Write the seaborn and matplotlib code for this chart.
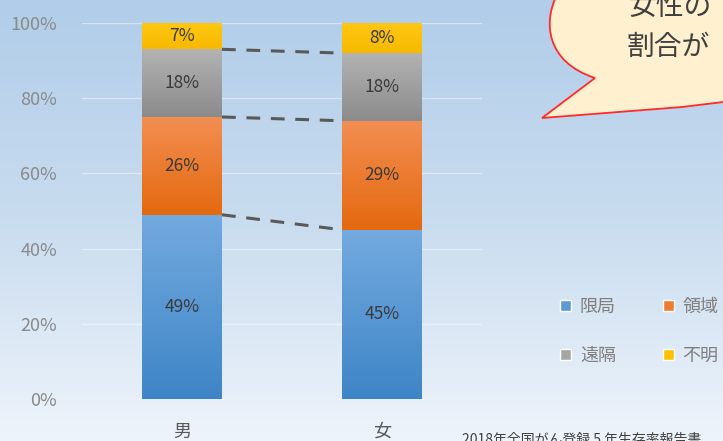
import matplotlib
matplotlib.use("Agg")
import matplotlib.pyplot as plt
import numpy as np
import pandas as pd
import seaborn as sns
from matplotlib.colors import LinearSegmentedColormap
from matplotlib.patches import Patch, PathPatch
from matplotlib.path import Path
from matplotlib.ticker import PercentFormatter

# data (percent of cases by stage)
sexes = ["男", "女"]
stages = ["限局", "領域", "遠隔", "不明"]
localized = [49, 45]
regional = [26, 29]
distant = [18, 18]
unknown = [7, 8]

# (bottom, top) colours of each segment's gradient
stage_colors = {
    "限局": ("#3e85c7", "#73aadf"),
    "領域": ("#e4690f", "#f38e52"),
    "遠隔": ("#8b8b8b", "#b3b3b3"),
    "不明": ("#f7b900", "#ffc814"),
}
legend_colors = {"限局": "#5b9bd5", "領域": "#ed7d31", "遠隔": "#a5a5a5", "不明": "#ffc000"}

W, H = 723, 441


def fig_xy(x, y):
    """pixel position (from top-left) -> figure fraction"""
    return x / W, 1 - y / H


sns.set_style("white")
plt.rcParams["font.family"] = ["Noto Sans CJK JP", "DejaVu Sans"]

fig = plt.figure(figsize=(W / 100, H / 100), dpi=100)

# background gradient over the whole slide
bg = fig.add_axes([0, 0, 1, 1], zorder=-10)
bg_cmap = LinearSegmentedColormap.from_list("bg", ["#eef4fb", "#c9dcef", "#b1cde9"])
bg.imshow(np.linspace(0, 1, 256).reshape(-1, 1), cmap=bg_cmap, origin="lower",
          aspect="auto", extent=[0, 1, 0, 1])
bg.axis("off")

x0, y1 = fig_xy(82, 23)
x1, y0 = fig_xy(482, 399)
ax = fig.add_axes([x0, y0, x1 - x0, y1 - y0])
ax.patch.set_alpha(0)

data = pd.DataFrame({"sex": sexes, "限局": localized, "領域": regional,
                     "遠隔": distant, "不明": unknown}).set_index("sex")
tops = data[stages].cumsum(axis=1)
bottoms = tops - data[stages]

grad = np.linspace(0, 1, 256).reshape(-1, 1)
# draw from the top of the stack down so each call gets its own patches
for stage in reversed(stages):
    n_before = len(ax.patches)
    sns.barplot(x=sexes, y=tops[stage].values, order=sexes, color=legend_colors[stage],
                saturation=1, width=0.4, linewidth=0, ax=ax)
    for patch, sex in zip(ax.patches[n_before:], sexes):
        patch.set_y(bottoms.loc[sex, stage])
        patch.set_height(data.loc[sex, stage])
        bx = patch.get_x()
        cmap = LinearSegmentedColormap.from_list(stage, stage_colors[stage])
        im = ax.imshow(grad, cmap=cmap, origin="lower", aspect="auto", zorder=2,
                       extent=[bx, bx + patch.get_width(),
                               bottoms.loc[sex, stage], tops.loc[sex, stage]])
        im.set_clip_path(patch)
        ax.text(bx + patch.get_width() / 2,
                bottoms.loc[sex, stage] + data.loc[sex, stage] / 2,
                f"{data.loc[sex, stage]}%", ha="center", va="center",
                fontsize=12.5, color="#3a3a3a", zorder=4)

# dashed connectors between the stage boundaries
for stage in stages[:-1]:
    ax.plot([0.2, 0.8], tops[stage].values, color="#595959", lw=2.2,
            dashes=(4.5, 3.5), zorder=3)

ax.set_xlim(-0.5, 1.5)
ax.set_ylim(0, 100)
ax.yaxis.set_major_formatter(PercentFormatter(100, decimals=0))
ax.set_yticks(np.arange(0, 101, 20))
ax.grid(axis="y", color="#ffffff", alpha=0.45, lw=1)
ax.set_axisbelow(True)
sns.despine(ax=ax, left=True, bottom=True)
ax.tick_params(axis="y", length=0, pad=18, labelsize=13, labelcolor="#8a8a8a")
ax.tick_params(axis="x", length=0, pad=17, labelsize=13, labelcolor="#595959")
ax.set_xlabel("")
ax.set_ylabel("")

# legend on the right
handles = [Patch(facecolor=legend_colors[s], label=s) for s in ["限局", "遠隔", "領域", "不明"]]
fig.legend(handles=handles, loc="upper left", bbox_to_anchor=fig_xy(551, 289), ncol=2,
           frameon=False, fontsize=13, labelcolor="#7f7f7f", handlelength=0.6,
           handleheight=0.6, handletextpad=0.5, columnspacing=2.6, labelspacing=1.7,
           borderpad=0)

# speech bubble, top right (mostly outside the frame)
verts = [fig_xy(557, -5), fig_xy(543, 22), fig_xy(546, 62), fig_xy(595, 78),
         fig_xy(542, 118), fig_xy(682, 107), fig_xy(740, 100), fig_xy(740, -5),
         fig_xy(557, -5)]
codes = [Path.MOVETO, Path.CURVE4, Path.CURVE4, Path.CURVE4, Path.LINETO,
         Path.LINETO, Path.LINETO, Path.LINETO, Path.CLOSEPOLY]
bubble = PathPatch(Path(verts, codes), facecolor="#fff1cf", edgecolor="#ff2a2a",
                   lw=1.3, transform=fig.transFigure, zorder=1)
fig.add_artist(bubble)
fig.text(*fig_xy(629, 7), "女性の", fontsize=20, color="#404040",
         ha="left", va="center")
fig.text(*fig_xy(626, 47), "割合が", fontsize=20, color="#404040",
         ha="left", va="center")

# source note, cut off at the bottom edge
fig.text(*fig_xy(462, 433), "2018年全国がん登録 5 年生存率報告書", fontsize=10,
         color="#404040", ha="left", va="top")

fig.savefig("out.png", dpi=100)
